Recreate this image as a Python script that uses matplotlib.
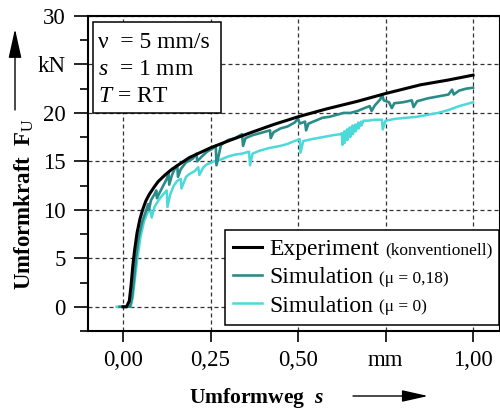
import numpy as np
import matplotlib
matplotlib.use("Agg")
import matplotlib.pyplot as plt
from matplotlib.patches import Rectangle
from matplotlib.ticker import MultipleLocator

# Umformweg s in mm, Umformkraft F in kN
exp_s = [0.000, 0.010, 0.018, 0.023, 0.028, 0.033, 0.040, 0.048, 0.056, 0.065,
         0.075, 0.088, 0.100, 0.120, 0.140, 0.165, 0.190, 0.220, 0.250, 0.300,
         0.360, 0.430, 0.500, 0.580, 0.670, 0.750, 0.850, 0.930, 1.000]
exp_F = [0.0, 0.0, 0.6, 2.2, 4.2, 5.8, 7.6, 9.0, 10.0, 10.9,
         11.6, 12.3, 12.9, 13.6, 14.2, 14.8, 15.4, 15.9, 16.4, 17.1,
         17.9, 18.8, 19.6, 20.4, 21.2, 22.0, 22.9, 23.4, 23.9]

sim18_s = [-0.010, 0.020, 0.026, 0.032, 0.037, 0.045, 0.055, 0.065, 0.072, 0.074,
           0.080, 0.090, 0.095, 0.097, 0.105, 0.115, 0.125, 0.130, 0.132, 0.140,
           0.150, 0.155, 0.157, 0.165, 0.180, 0.200, 0.210, 0.212, 0.225, 0.240,
           0.255, 0.265, 0.267, 0.280, 0.300, 0.320, 0.340, 0.343, 0.350, 0.370,
           0.390, 0.410, 0.420, 0.422, 0.430, 0.450, 0.470, 0.490, 0.500, 0.505,
           0.520, 0.523, 0.530, 0.550, 0.570, 0.590, 0.610, 0.630, 0.650, 0.670,
           0.690, 0.705, 0.710, 0.720, 0.735, 0.740, 0.745, 0.760, 0.768, 0.775,
           0.800, 0.825, 0.830, 0.840, 0.870, 0.900, 0.930, 0.940, 0.945, 0.960,
           0.980, 1.000]
sim18_F = [0.0, 0.0, 1.0, 3.0, 5.0, 7.2, 8.8, 9.8, 10.6, 10.0,
           11.0, 11.6, 12.0, 11.2, 11.8, 12.5, 13.2, 13.8, 12.6, 13.6,
           14.4, 14.6, 13.4, 14.2, 14.9, 15.3, 15.8, 15.0, 15.5, 16.0,
           16.3, 16.6, 14.6, 16.7, 17.2, 17.4, 17.8, 16.6, 17.4, 17.7,
           17.9, 18.1, 18.2, 17.4, 18.0, 18.4, 18.6, 19.0, 19.4, 18.9,
           19.1, 18.2, 18.9, 19.2, 19.5, 19.6, 19.8, 20.0, 20.0, 20.2,
           20.5, 20.7, 20.2, 20.8, 21.4, 21.9, 21.3, 21.1, 20.5, 21.0,
           21.1, 21.3, 20.6, 21.2, 21.5, 21.7, 21.9, 22.4, 21.9, 22.3,
           22.5, 22.6]

sim0_s = [-0.018, 0.022, 0.028, 0.035, 0.041, 0.050, 0.060, 0.070, 0.078, 0.082,
          0.090, 0.100, 0.110, 0.120, 0.125, 0.127, 0.135, 0.145, 0.155, 0.165,
          0.167, 0.180, 0.190, 0.205, 0.215, 0.218, 0.230, 0.240, 0.260, 0.280,
          0.300, 0.320, 0.340, 0.360, 0.363, 0.370, 0.390, 0.420, 0.450, 0.470,
          0.490, 0.505, 0.507, 0.515, 0.540, 0.570, 0.600, 0.620, 0.625, 0.627,
          0.632, 0.633, 0.640, 0.641, 0.648, 0.649, 0.656, 0.657, 0.664, 0.665,
          0.672, 0.673, 0.680, 0.681, 0.687, 0.700, 0.720, 0.740, 0.742, 0.750,
          0.780, 0.810, 0.840, 0.870, 0.900, 0.930, 0.960, 0.980, 1.000]
sim0_F = [0.0, 0.0, 1.0, 3.2, 5.0, 7.2, 8.8, 9.7, 10.0, 9.2,
          10.3, 10.9, 11.4, 11.8, 12.0, 10.3, 11.6, 12.5, 13.0, 13.2,
          12.2, 13.4, 13.7, 14.0, 14.4, 13.6, 14.4, 14.7, 15.0, 15.2,
          15.5, 15.7, 15.8, 16.0, 14.6, 15.8, 16.1, 16.4, 16.6, 16.8,
          17.1, 17.3, 15.9, 17.1, 17.3, 17.5, 17.7, 17.8, 17.9, 16.7,
          18.1, 16.9, 18.3, 17.2, 18.5, 17.5, 18.7, 17.8, 18.8, 18.1,
          19.0, 18.4, 19.1, 18.7, 19.2, 19.2, 19.3, 19.3, 18.3, 19.2,
          19.4, 19.5, 19.6, 19.8, 20.0, 20.3, 20.7, 20.9, 21.1]

x_ticks = [0.0, 0.25, 0.5, 0.75, 1.0]
x_ticklabels = ["0,00", "0,25", "0,50", "mm", "1,00"]
y_ticks = [0, 5, 10, 15, 20, 25, 30]
y_ticklabels = ["0", "5", "10", "15", "20", "kN", "30"]

legend_main = ["Experiment", "Simulation", "Simulation"]
legend_small = ["(konventionell)", "(\u03bc = 0,18)", "(\u03bc = 0)"]
info_lines = ["\u03bd  = 5 mm/s", "$s$  = 1 mm", "$T$ = RT"]

c_exp = "black"
c_sim18 = "#2a8c89"
c_sim0 = "#4dd9d9"


if __name__ == '__main__':
    plt.rcParams['font.family'] = ['Liberation Serif', 'DejaVu Serif']
    plt.rcParams['mathtext.fontset'] = 'custom'
    plt.rcParams['mathtext.rm'] = 'Liberation Serif'
    plt.rcParams['mathtext.it'] = 'Liberation Serif:italic'
    plt.rcParams['mathtext.bf'] = 'Liberation Serif:bold'
    plt.rcParams['mathtext.bfit'] = 'Liberation Serif:italic:bold'

    fig = plt.figure(figsize=(5.0, 4.09), dpi=100)
    ax = fig.add_axes([0.176, 0.1907, 0.824, 0.7702])

    l0, = ax.plot(sim0_s, sim0_F, color=c_sim0, lw=1.8, zorder=3)
    l18, = ax.plot(sim18_s, sim18_F, color=c_sim18, lw=1.9, zorder=3)
    le, = ax.plot(exp_s, exp_F, color=c_exp, lw=2.2, zorder=4)

    ax.set_xlim(-0.1, 1.077)
    ax.set_ylim(-2.5, 30)
    ax.set_xticks(x_ticks)
    ax.set_xticklabels(x_ticklabels)
    ax.set_yticks(y_ticks)
    ax.set_yticklabels(y_ticklabels)
    ax.yaxis.set_minor_locator(MultipleLocator(2.5))
    ax.tick_params(axis='both', labelsize=16.5, width=1.2, direction='out')
    ax.tick_params(axis='y', which='major', length=10, pad=6)
    ax.tick_params(axis='y', which='minor', length=6, width=1.2)
    ax.tick_params(axis='x', which='major', length=8, pad=5.5)
    for sp in ax.spines.values():
        sp.set_linewidth(1.5)

    # gestrichelte Gitterlinien
    ax.grid(True, which='major', color='#333333', lw=0.9,
            linestyle=(0, (3.2, 2.4)), zorder=1)
    ax.set_axisbelow(True)

    # Parameterbox oben links
    ax.add_patch(Rectangle((0.0121, 0.692), 0.3107, 0.289, transform=ax.transAxes,
                           fill=True, facecolor='white', edgecolor='black',
                           lw=1.1, zorder=5))
    for txt, yy in zip(info_lines, [0.898, 0.813, 0.727]):
        ax.text(0.0243, yy, txt, transform=ax.transAxes, fontsize=17,
                va='baseline', ha='left', zorder=6)

    leg = ax.legend([le, l18, l0], legend_main, loc='upper left',
                    bbox_to_anchor=(0.3325, 0.0, 0.665, 0.3206), mode='expand',
                    borderaxespad=0, fontsize=17, fancybox=False, framealpha=1,
                    edgecolor='black', borderpad=0.35, labelspacing=0.29,
                    handlelength=1.23, handletextpad=0.3)
    leg.get_frame().set_linewidth(1.1)
    leg.set_zorder(7)
    for t, small in zip(leg.get_texts(), legend_small):
        ax.annotate(small, xy=(1, 0), xycoords=t, xytext=(4, 0.8),
                    textcoords='offset points', fontsize=12.5,
                    va='bottom', ha='left', zorder=10)

    # Achsenbeschriftungen mit Pfeilen
    fig.text(24 / 500, 205 / 409, "Umformkraft  $\\mathbf{F}_{\\mathrm{U}}$",
             rotation=90, ha='center', va='center', fontsize=16.5, fontweight='bold')
    fig.text(257 / 500, 6 / 409, "Umformweg  $\\mathbfit{s}$",
             ha='center', va='baseline', fontsize=15.5, fontweight='bold')
    ax.annotate('', xy=(15, 409 - 29), xytext=(15, 409 - 110),
                xycoords='figure pixels', textcoords='figure pixels',
                arrowprops=dict(arrowstyle='-|>,head_length=18,head_width=4',
                                mutation_scale=1, color='black', lw=1,
                                shrinkA=0, shrinkB=0))
    ax.annotate('', xy=(428, 409 - 396), xytext=(353, 409 - 396),
                xycoords='figure pixels', textcoords='figure pixels',
                arrowprops=dict(arrowstyle='-|>,head_length=16,head_width=3.6',
                                mutation_scale=1, color='black', lw=1,
                                shrinkA=0, shrinkB=0))

    fig.savefig("out.png", dpi=100)
